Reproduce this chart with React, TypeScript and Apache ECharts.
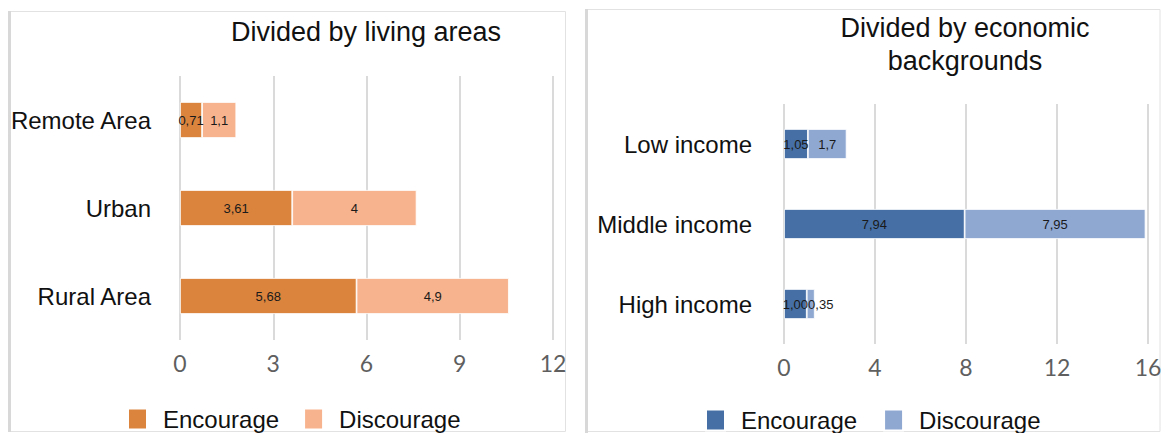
import React, { useEffect, useRef } from "react";
import * as echarts from "echarts";

const areaCategories = ["Remote Area", "Urban", "Rural Area"];
const areaEncourage = ["0.71", "3.61", "5.68"];
const areaDiscourage = ["1.1", "4", "4.9"];
const areaTicks = { min: 0, max: 12, interval: 3 };

const incomeCategories = ["Low income", "Middle income", "High income"];
const incomeEncourage = ["1.05", "7.94", "1.00"];
const incomeDiscourage = ["1.7", "7.95", "0.35"];
const incomeTicks = { min: 0, max: 16, interval: 4 };

const seriesNames = ["Encourage", "Discourage"];
const areaColors = ["#DB843E", "#F7B38D"];
const incomeColors = ["#4670A5", "#8FA8D2"];

const SANS = "'Liberation Sans', Arial, Helvetica, sans-serif";
const TICKFONT = "Lato, 'Open Sans', sans-serif";

function labelFor(texts: string[]) {
  return (p: any) => texts[p.dataIndex].replace(".", ",");
}

export default function App() {
  const ref = useRef<HTMLDivElement>(null);
  useEffect(() => {
    if (!ref.current) return;
    const chart = echarts.init(ref.current, undefined, { renderer: "svg" });

    const xAxisBase = (ticks: any, gridIndex: number) => ({
      type: "value",
      gridIndex,
      min: ticks.min,
      max: ticks.max,
      interval: ticks.interval,
      axisLine: { show: false },
      axisTick: { show: false },
      splitLine: { show: true, lineStyle: { color: "#dadada", width: 2 } },
      axisLabel: { fontSize: 23, color: "#5f5f5f", fontFamily: TICKFONT, margin: 11 },
    });
    const yAxisBase = (cats: string[], gridIndex: number, margin: number) => ({
      type: "category",
      gridIndex,
      data: cats,
      inverse: true,
      axisLine: { show: false },
      axisTick: { show: false },
      axisLabel: { fontSize: 24, color: "#111", fontFamily: SANS, margin },
    });
    const barSeries = (
      name: string,
      texts: string[],
      color: string,
      idx: number,
      stack: string,
      barWidth: number,
      nudgeSmall = false
    ) => ({
      type: "bar",
      name,
      stack,
      xAxisIndex: idx,
      yAxisIndex: idx,
      barWidth,
      data: texts.map((t) => {
        const v = Number(t);
        // very thin segments: label sits just to the right, as in the reference
        if (nudgeSmall && v < 0.5) {
          return { value: v, label: { offset: [10, 0] } };
        }
        return v;
      }),
      itemStyle: { color, borderColor: "#ffffff", borderWidth: 0.8 },
      label: {
        show: true,
        position: "inside",
        fontSize: 13,
        color: "#1a1a1a",
        fontFamily: SANS,
        formatter: labelFor(texts),
      },
    });

    chart.setOption({
      animation: false,
      backgroundColor: "#ffffff",
      title: [
        {
          text: "Divided by living areas",
          left: 366,
          top: 18,
          textAlign: "center",
          padding: 0,
          textStyle: { fontSize: 27, fontWeight: "normal", color: "#111", fontFamily: SANS },
        },
        {
          text: "Divided by economic\nbackgrounds",
          left: 965,
          top: 11,
          textAlign: "center",
          padding: 0,
          textStyle: {
            fontSize: 27,
            fontWeight: "normal",
            color: "#111",
            fontFamily: SANS,
            lineHeight: 33,
          },
        },
      ],
      legend: [
        {
          left: 127,
          top: 407,
          itemWidth: 19,
          itemHeight: 21,
          itemGap: 24,
          icon: "rect",
          selectedMode: false,
          padding: 0,
          data: [
            { name: seriesNames[0], itemStyle: { color: areaColors[0] } },
            { name: seriesNames[1], itemStyle: { color: areaColors[1] } },
          ],
          textStyle: { fontSize: 24, color: "#111", fontFamily: SANS, padding: [0, 0, 0, 11] },
        },
        {
          left: 705,
          top: 408,
          itemWidth: 19,
          itemHeight: 21,
          itemGap: 26,
          icon: "rect",
          selectedMode: false,
          padding: 0,
          data: [
            { name: seriesNames[0], itemStyle: { color: incomeColors[0] } },
            { name: seriesNames[1], itemStyle: { color: incomeColors[1] } },
          ],
          textStyle: { fontSize: 24, color: "#111", fontFamily: SANS, padding: [0, 0, 0, 11] },
        },
      ],
      grid: [
        { left: 180, width: 373, top: 76, height: 264 },
        { left: 784, width: 364, top: 104, height: 240 },
      ],
      xAxis: [xAxisBase(areaTicks, 0), xAxisBase(incomeTicks, 1)],
      yAxis: [yAxisBase(areaCategories, 0, 29), yAxisBase(incomeCategories, 1, 32)],
      series: [
        barSeries(seriesNames[0], areaEncourage, areaColors[0], 0, "a", 36),
        barSeries(seriesNames[1], areaDiscourage, areaColors[1], 0, "a", 36),
        barSeries(seriesNames[0], incomeEncourage, incomeColors[0], 1, "b", 30),
        barSeries(seriesNames[1], incomeDiscourage, incomeColors[1], 1, "b", 30, true),
      ],
      graphic: [
        {
          type: "rect",
          silent: true,
          z: -10,
          shape: { x: 8.5, y: 11.5, width: 557, height: 420 },
          style: { fill: "none", stroke: "#e2e2e2", lineWidth: 1 },
        },
        {
          type: "line",
          silent: true,
          shape: { x1: 9.5, y1: 11, x2: 9.5, y2: 432 },
          style: { stroke: "#d8d8d8", lineWidth: 3 },
        },
        {
          type: "rect",
          silent: true,
          z: -10,
          shape: { x: 585.5, y: 9.5, width: 574.5, height: 422 },
          style: { fill: "none", stroke: "#e2e2e2", lineWidth: 1 },
        },
        {
          type: "line",
          silent: true,
          shape: { x1: 586.5, y1: 9, x2: 586.5, y2: 433 },
          style: { stroke: "#d8d8d8", lineWidth: 3 },
        },
      ],
    });
    return () => chart.dispose();
  }, []);
  return (
    <div
      ref={ref}
      style={{ position: "fixed", left: 0, top: 0, width: 1165, height: 433 }}
    />
  );
}
